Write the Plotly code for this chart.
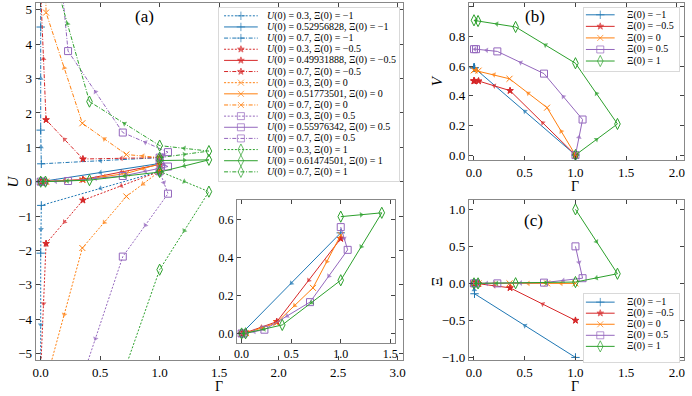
import plotly.graph_objects as go

W, H = 692, 396

# ---- values ----
xi0_labels = ["−1", "−0.5", "0", "0.5", "1"]
u0_crit_labels = ["0.52956828", "0.49931888", "0.51773501", "0.55976342", "0.61474501"]

# Gamma along the iteration (same for every U(0) at one Xi(0))
gamma_xi_m1 = [1.0, 0.005, 0.0, 0.0, 0.0, 0.0]
gamma_xi_m05 = [1.0, 0.355, 0.045, 0.002, 0.0, 0.0]
gamma_xi_0 = [1.0, 0.72, 0.35, 0.045, 0.0, 0.0]
gamma_xi_05 = [1.0, 1.07, 0.69, 0.23, 0.02, 0.0]
gamma_xi_1 = [1.0, 1.414, 1.0, 0.41, 0.04, 0.0]

# V along the iteration (panel b)
v_xi_m1 = [0.0, 0.59, 0.59, 0.59, 0.59, 0.59]
v_xi_m05 = [0.0, 0.435, 0.50, 0.50, 0.50, 0.50]
v_xi_0 = [0.0, 0.32, 0.515, 0.57, 0.573, 0.573]
v_xi_05 = [0.0, 0.24, 0.55, 0.70, 0.715, 0.715]
v_xi_1 = [0.0, 0.21, 0.62, 0.865, 0.905, 0.91]

# Xi along the iteration (panel c)
xi_xi_m1 = [-1.0, -0.14, -0.035, -0.005, 0.0, 0.0]
xi_xi_m05 = [-0.5, -0.06, -0.005, 0.0, 0.0, 0.0]
xi_xi_0 = [0.0, 0.0, 0.0, 0.0, 0.0, 0.0]
xi_xi_05 = [0.5, 0.07, 0.01, 0.0, 0.0, 0.0]
xi_xi_1 = [1.0, 0.13, 0.018, 0.002, 0.0, 0.0]

# U along the iteration for U(0)=0.3, U(0)=critical, U(0)=0.7 (panel a)
u_lo_xi_m1 = [0.3, -0.69, -2.08, -6.25, -18.7, -56.0]
u_c_xi_m1 = [0.52956828, 0.0, 0.0, 0.0, 0.0, 0.0]
u_hi_xi_m1 = [0.7, 0.52, 1.5, 4.5, 13.5, 40.0]
u_lo_xi_m05 = [0.3, -0.54, -1.8, -5.3, -16.0, -48.0]
u_c_xi_m05 = [0.49931888, 0.062, 0.005, 0.0, 0.0, 0.0]
u_hi_xi_m05 = [0.7, 0.66, 1.8, 5.35, 16.0, 48.0]
u_lo_xi_0 = [0.3, -0.43, -1.93, -5.8, -17.5, -52.0]
u_c_xi_0 = [0.51773501, 0.24, 0.055, 0.002, 0.0, 0.0]
u_hi_xi_0 = [0.7, 0.79, 1.70, 4.92, 14.8, 44.0]
u_lo_xi_05 = [0.3, -0.35, -2.18, -6.95, -21.0, -63.0]
u_c_xi_05 = [0.55976342, 0.44, 0.165, 0.02, 0.0, 0.0]
u_hi_xi_05 = [0.7, 0.86, 1.43, 3.8, 11.4, 34.0]
u_lo_xi_1 = [0.3, -0.29, -2.56, -8.4, -25.5, -77.0]
u_c_xi_1 = [0.61474501, 0.635, 0.28, 0.045, 0.001, 0.0]
u_hi_xi_1 = [0.7, 0.89, 1.05, 2.33, 6.85, 20.6]

gammas = [gamma_xi_m1, gamma_xi_m05, gamma_xi_0, gamma_xi_05, gamma_xi_1]
vs = [v_xi_m1, v_xi_m05, v_xi_0, v_xi_05, v_xi_1]
xis = [xi_xi_m1, xi_xi_m05, xi_xi_0, xi_xi_05, xi_xi_1]
u_lo = [u_lo_xi_m1, u_lo_xi_m05, u_lo_xi_0, u_lo_xi_05, u_lo_xi_1]
u_c = [u_c_xi_m1, u_c_xi_m05, u_c_xi_0, u_c_xi_05, u_c_xi_1]
u_hi = [u_hi_xi_m1, u_hi_xi_m05, u_hi_xi_0, u_hi_xi_05, u_hi_xi_1]

colors = ["#1f77b4", "#d62728", "#ff7f0e", "#9467bd", "#2ca02c"]
symbols = ["cross-thin-open", "star", "x-thin-open", "square-open", "diamond-tall-open"]
msizes = [6, 5, 6, 7, 8]

DOT = "2px,1.6px"
DASHDOT = "4px,1.6px,1px,1.6px"

fig = go.Figure()


def add_path(x, y, i, dash, ax):
    c = colors[i]
    fig.add_trace(go.Scatter(
        x=x, y=y, xaxis="x" + ax, yaxis="y" + ax, mode="lines+markers",
        line=dict(color=c, width=1, dash=dash),
        marker=dict(symbol=symbols[i], size=msizes[i], color=c, line=dict(color=c, width=1)),
        showlegend=False, hoverinfo="skip"))
    # little arrow half way along each step, pointing the way the map runs
    px_, py_, sz = [], [], []
    for k in range(len(x) - 1):
        moved = abs(x[k + 1] - x[k]) + abs(y[k + 1] - y[k]) > 1e-6
        px_ += [x[k], (x[k] + x[k + 1]) / 2]
        py_ += [y[k], (y[k] + y[k + 1]) / 2]
        sz += [0, 5 if moved else 0]
    fig.add_trace(go.Scatter(
        x=px_, y=py_, xaxis="x" + ax, yaxis="y" + ax, mode="markers",
        marker=dict(symbol="triangle-up", size=sz, color=c, angleref="previous", line=dict(width=0)),
        showlegend=False, hoverinfo="skip"))


# panel (a) main
for i in range(5):
    add_path(gammas[i], u_lo[i], i, DOT, "")
    add_path(gammas[i], u_c[i], i, "solid", "")
    add_path(gammas[i], u_hi[i], i, DASHDOT, "")
# panel (a) inset
for i in range(5):
    add_path(gammas[i], u_c[i], i, "solid", "2")
# panel (b)
for i in range(5):
    add_path(gammas[i], vs[i], i, "solid", "3")
# panel (c)
for i in range(5):
    add_path(gammas[i], xis[i], i, "solid", "4")


def add_legend_rows(ax, labels, styles, x0, xm, x1, xt, y0, dy):
    for k, (lab, (i, dash)) in enumerate(zip(labels, styles)):
        yy = y0 + k * dy
        c = colors[i]
        fig.add_trace(go.Scatter(
            x=[x0, xm, x1], y=[yy, yy, yy], xaxis="x" + ax, yaxis="y" + ax, mode="lines+markers",
            line=dict(color=c, width=1, dash=dash),
            marker=dict(symbol=symbols[i], size=[0, msizes[i], 0], color=c, line=dict(color=c, width=1)),
            showlegend=False, hoverinfo="skip"))
        fig.add_annotation(x=xt, y=yy, xref="x" + ax, yref="y" + ax, text=lab, showarrow=False,
                           xanchor="left", yanchor="middle", font=dict(size=10))


labels_a, styles_a = [], []
for i in range(5):
    labels_a += ["<i>U</i>(0) = 0.3, Ξ(0) = " + xi0_labels[i],
                 "<i>U</i>(0) = " + u0_crit_labels[i] + ", Ξ(0) = " + xi0_labels[i],
                 "<i>U</i>(0) = 0.7, Ξ(0) = " + xi0_labels[i]]
    styles_a += [(i, DOT), (i, "solid"), (i, DASHDOT)]
labels_bc = ["Ξ(0) = " + t for t in xi0_labels]
styles_bc = [(i, "solid") for i in range(5)]

add_legend_rows("5", labels_a, styles_a, 5, 22, 39, 46, 8, 11.29)
add_legend_rows("6", labels_bc, styles_bc, 2, 16.5, 31, 41, 7, 11.7)
add_legend_rows("7", labels_bc, styles_bc, 2, 16.5, 31, 41, 8, 11.2)

AX = dict(showline=True, mirror="ticks", linecolor="#888888", linewidth=1, ticks="inside", ticklen=4,
          tickcolor="#444444", tickwidth=1, zeroline=False, showgrid=False, tickfont=dict(size=13))
LEG = dict(showline=True, mirror=True, linecolor="#d9d9d9", linewidth=1, showticklabels=False, ticks="",
           showgrid=False, zeroline=False, fixedrange=True)

fig.update_layout(
    width=W, height=H, margin=dict(l=0, r=0, t=0, b=0),
    paper_bgcolor="white", plot_bgcolor="white", showlegend=False,
    font=dict(family="Liberation Serif", color="black"),
    xaxis=dict(AX, domain=[33 / W, 404 / W], range=[-0.042, 3.05], dtick=0.5, tickformat=".1f", anchor="y"),
    yaxis=dict(AX, domain=[31 / H, 393 / H], range=[-5.2, 5.2], dtick=1, anchor="x"),
    xaxis2=dict(AX, domain=[236 / W, 395 / W], range=[-0.047, 1.543], dtick=0.5, tickformat=".1f",
                anchor="y2", tickfont=dict(size=12)),
    yaxis2=dict(AX, domain=[1 - 347 / H, 1 - 203 / H], range=[-0.048, 0.70], dtick=0.2, tickformat=".1f",
                anchor="x2", tickfont=dict(size=12)),
    xaxis3=dict(AX, domain=[470 / W, 687 / W], range=[-0.05, 2.07], dtick=0.5, tickformat=".1f", anchor="y3"),
    yaxis3=dict(AX, domain=[1 - 162 / H, 1 - 3 / H], range=[-0.033, 1.027], dtick=0.2, tickformat=".1f",
                anchor="x3"),
    xaxis4=dict(AX, domain=[470 / W, 687 / W], range=[-0.05, 2.07], dtick=0.5, tickformat=".1f", anchor="y4"),
    yaxis4=dict(AX, domain=[1 - 365 / H, 1 - 203 / H], range=[-1.04, 1.12], dtick=0.5, tickformat=".1f",
                anchor="x4"),
    xaxis5=dict(LEG, domain=[218 / W, 399 / W], range=[0, 181], anchor="y5"),
    yaxis5=dict(LEG, domain=[1 - 183 / H, 1 - 8 / H], range=[175, 0], anchor="x5"),
    xaxis6=dict(LEG, domain=[586 / W, 682 / W], range=[0, 96], anchor="y6"),
    yaxis6=dict(LEG, domain=[1 - 72 / H, 1 - 8 / H], range=[64, 0], anchor="x6"),
    xaxis7=dict(LEG, domain=[586 / W, 682 / W], range=[0, 96], anchor="y7"),
    yaxis7=dict(LEG, domain=[1 - 367 / H, 1 - 298 / H], range=[69, 0], anchor="x7"),
)

# axis titles and panel tags
texts = [
    ("Γ", 218, 391, 0, 14), ("<i>U</i>", 10, 184, -90, 15),
    ("Γ", 577, 189, 0, 14), ("<i>V</i>", 438, 82, -90, 15),
    ("Γ", 577, 391, 0, 14), ("Ξ", 438, 285, -90, 15),
    ("(a)", 143, 17, 0, 17), ("(b)", 537, 17, 0, 17), ("(c)", 535, 223, 0, 17),
]
for t, x, y, ang, s in texts:
    fig.add_annotation(x=x / W, y=1 - y / H, xref="paper", yref="paper", text=t, showarrow=False,
                       textangle=ang, xanchor="center", yanchor="middle", font=dict(size=s))

# drop the browser's default page margin so the figure sits at the window's corner
fig.write_html("out.html", config={"displayModeBar": False},
               post_script="document.body.style.margin='0px';")
